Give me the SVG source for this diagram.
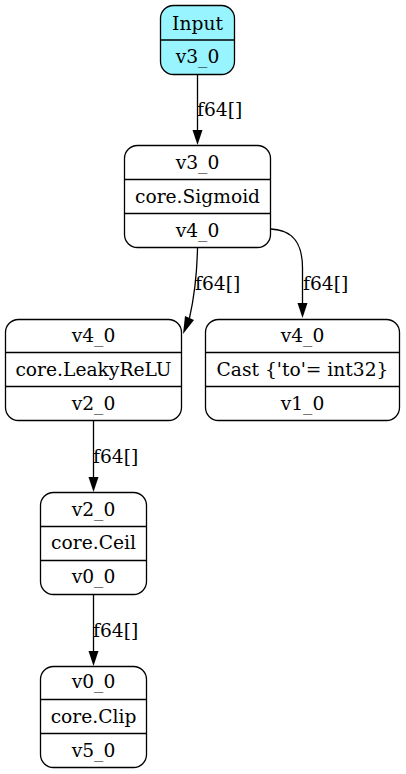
<svg xmlns="http://www.w3.org/2000/svg" width="406" height="774" viewBox="0 0 406 774">
<defs>
<style>
.box{fill:#fff;stroke:#000;stroke-width:1.3}
.inp{fill:#98f5ff}
.sep{stroke:#000;stroke-width:1.3}
text{font-family:"DejaVu Serif","Liberation Serif",serif;font-size:18.67px;fill:#000}
.c{text-anchor:middle}
.e{fill:none;stroke:#000;stroke-width:1.3}
</style>
</defs>
<g id="edges">
<path class="e" d="M197.5,74 L197.5,130"/>
<path d="M192.5,130 L202.5,130 L197.5,145 Z"/>
<text x="197" y="116">f64[]</text>
<path class="e" d="M197.5,248 C197,275 194,298 189.5,318"/>
<path d="M185,316 L194,320 L183,334 Z"/>
<text x="195" y="290">f64[]</text>
<path class="e" d="M271,229 C292,230 302.5,242 302.5,268 L302.5,303"/>
<path d="M297.5,303 L307.5,303 L302.5,318 Z"/>
<text x="303" y="290">f64[]</text>
<path class="e" d="M93.5,421 L93.5,477"/>
<path d="M88.5,477 L98.5,477 L93.5,492 Z"/>
<text x="93" y="463">f64[]</text>
<path class="e" d="M93.5,595 L93.5,651"/>
<path d="M88.5,651 L98.5,651 L93.5,666 Z"/>
<text x="93" y="637">f64[]</text>
</g>
<g id="input">
<rect class="box inp" x="160.5" y="5.5" width="74" height="69" rx="13"/>
<line class="sep" x1="160.5" y1="40" x2="234.5" y2="40"/>
<text class="c" x="197.5" y="30">Input</text>
<text class="c" x="197.5" y="63">v3_0</text>
</g>
<g id="sigmoid">
<rect class="box" x="124.5" y="145.5" width="146" height="102" rx="13"/>
<line class="sep" x1="124.5" y1="179.5" x2="270.5" y2="179.5"/>
<line class="sep" x1="124.5" y1="213.5" x2="270.5" y2="213.5"/>
<text class="c" x="197.5" y="169">v3_0</text>
<text class="c" x="197.5" y="203">core.Sigmoid</text>
<text class="c" x="197.5" y="237">v4_0</text>
</g>
<g id="leakyrelu">
<rect class="box" x="5.5" y="319.5" width="176" height="101" rx="13"/>
<line class="sep" x1="5.5" y1="352.5" x2="181.5" y2="352.5"/>
<line class="sep" x1="5.5" y1="386.5" x2="181.5" y2="386.5"/>
<text class="c" x="93.5" y="342">v4_0</text>
<text class="c" x="93.5" y="376">core.LeakyReLU</text>
<text class="c" x="93.5" y="410">v2_0</text>
</g>
<g id="cast">
<rect class="box" x="205.5" y="319.5" width="194" height="101" rx="13"/>
<line class="sep" x1="205.5" y1="352.5" x2="399.5" y2="352.5"/>
<line class="sep" x1="205.5" y1="386.5" x2="399.5" y2="386.5"/>
<text class="c" x="302.5" y="342">v4_0</text>
<text class="c" x="302.5" y="376">Cast {'to'= int32}</text>
<text class="c" x="302.5" y="410">v1_0</text>
</g>
<g id="ceil">
<rect class="box" x="40.5" y="492.5" width="106" height="102" rx="13"/>
<line class="sep" x1="40.5" y1="526.5" x2="146.5" y2="526.5"/>
<line class="sep" x1="40.5" y1="560.5" x2="146.5" y2="560.5"/>
<text class="c" x="93.5" y="516">v2_0</text>
<text class="c" x="93.5" y="549">core.Ceil</text>
<text class="c" x="93.5" y="583">v0_0</text>
</g>
<g id="clip">
<rect class="box" x="40.5" y="666.5" width="106" height="101" rx="13"/>
<line class="sep" x1="40.5" y1="699.5" x2="146.5" y2="699.5"/>
<line class="sep" x1="40.5" y1="733.5" x2="146.5" y2="733.5"/>
<text class="c" x="93.5" y="688">v0_0</text>
<text class="c" x="93.5" y="723">core.Clip</text>
<text class="c" x="93.5" y="757">v5_0</text>
</g>
</svg>
